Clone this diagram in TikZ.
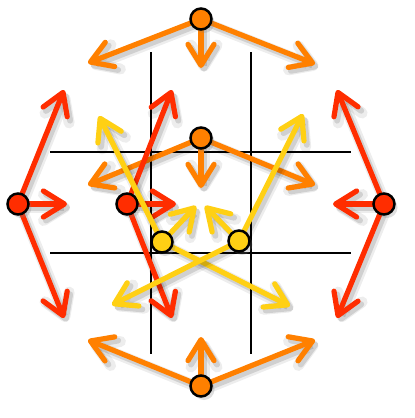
\documentclass[tikz,border=0pt]{standalone}
\usetikzlibrary{arrows.meta,shadows}
\definecolor{redC}{RGB}{255,45,0}
\definecolor{orangeC}{RGB}{255,128,0}
\definecolor{yellowC}{RGB}{255,208,20}
\tikzset{
	vec/.style={line width=5.2pt, line cap=round,
		-{Straight Barb[round,length=21pt,width=26pt]},
		preaction={draw=black, opacity=0.07, line width=11pt, transform canvas={shift={(3pt,-3.5pt)}}},
		preaction={draw=black, opacity=0.12, line width=6pt, transform canvas={shift={(3pt,-3.5pt)}}}},
	dot/.style={circle, draw=black, line width=2.5pt, minimum size=21pt, inner sep=0pt,
		drop shadow={opacity=0.25, shadow xshift=3pt, shadow yshift=-3.5pt}},
	grid/.style={line width=2.4pt, black}
}
\begin{document}
\begin{tikzpicture}[x=1pt, y=-1pt]
	\useasboundingbox (0,0) rectangle (415,418);
	%grid
	\foreach \x in {151,251}{
		\draw[grid] (\x,52) -- (\x,354);
	}
	\foreach \y in {152,253}{
		\draw[grid] (50,\y) -- (351,\y);
	}
	
	%sites
	\coordinate (ot) at (201,19);
	\coordinate (om) at (201,138);
	\coordinate (ob) at (201,386);
	\coordinate (rl) at (18,204);
	\coordinate (rm) at (127,204);
	\coordinate (rr) at (384,204);
	\coordinate (yl) at (162,242);
	\coordinate (yr) at (239,241);
	
	%arrow ends
	\coordinate (ot-a) at (88,63);
	\coordinate (ot-b) at (201,68);
	\coordinate (ot-c) at (315,64);
	\coordinate (om-a) at (88,185);
	\coordinate (om-b) at (201,188);
	\coordinate (om-c) at (315,185);
	\coordinate (ob-a) at (88,340);
	\coordinate (ob-b) at (201,337);
	\coordinate (ob-c) at (315,340);
	\coordinate (rl-a) at (64,90);
	\coordinate (rl-b) at (67,204);
	\coordinate (rl-c) at (64,318);
	\coordinate (rm-a) at (172,90);
	\coordinate (rm-b) at (176,204);
	\coordinate (rm-c) at (172,318);
	\coordinate (rr-a) at (337,90);
	\coordinate (rr-b) at (333,204);
	\coordinate (rr-c) at (337,318);
	\coordinate (yl-a) at (99,116);
	\coordinate (yl-b) at (196,206);
	\coordinate (yl-c) at (290,306);
	\coordinate (yr-a) at (303,114);
	\coordinate (yr-b) at (205,206);
	\coordinate (yr-c) at (112,305);
	
	%orange
	\foreach \s in {ot,om,ob}{
		\foreach \d in {a,b,c}
			\draw[vec, orangeC] (\s) -- (\s-\d);
	}
	\foreach \s in {ot,om,ob}
		\node[dot, fill=orangeC] (n-\s) at (\s) {};
	
	%red
	\foreach \s in {rl,rm,rr}{
		\foreach \d in {a,b,c}
			\draw[vec, redC] (\s) -- (\s-\d);
	}
	\foreach \s in {rl,rm,rr}
		\node[dot, fill=redC] (n-\s) at (\s) {};
	
	%yellow
	\foreach \s in {yl,yr}{
		\foreach \d in {a,b,c}
			\draw[vec, yellowC] (\s) -- (\s-\d);
	}
	\foreach \s in {yl,yr}
		\node[dot, fill=yellowC] (n-\s) at (\s) {};
\end{tikzpicture}
\end{document}
